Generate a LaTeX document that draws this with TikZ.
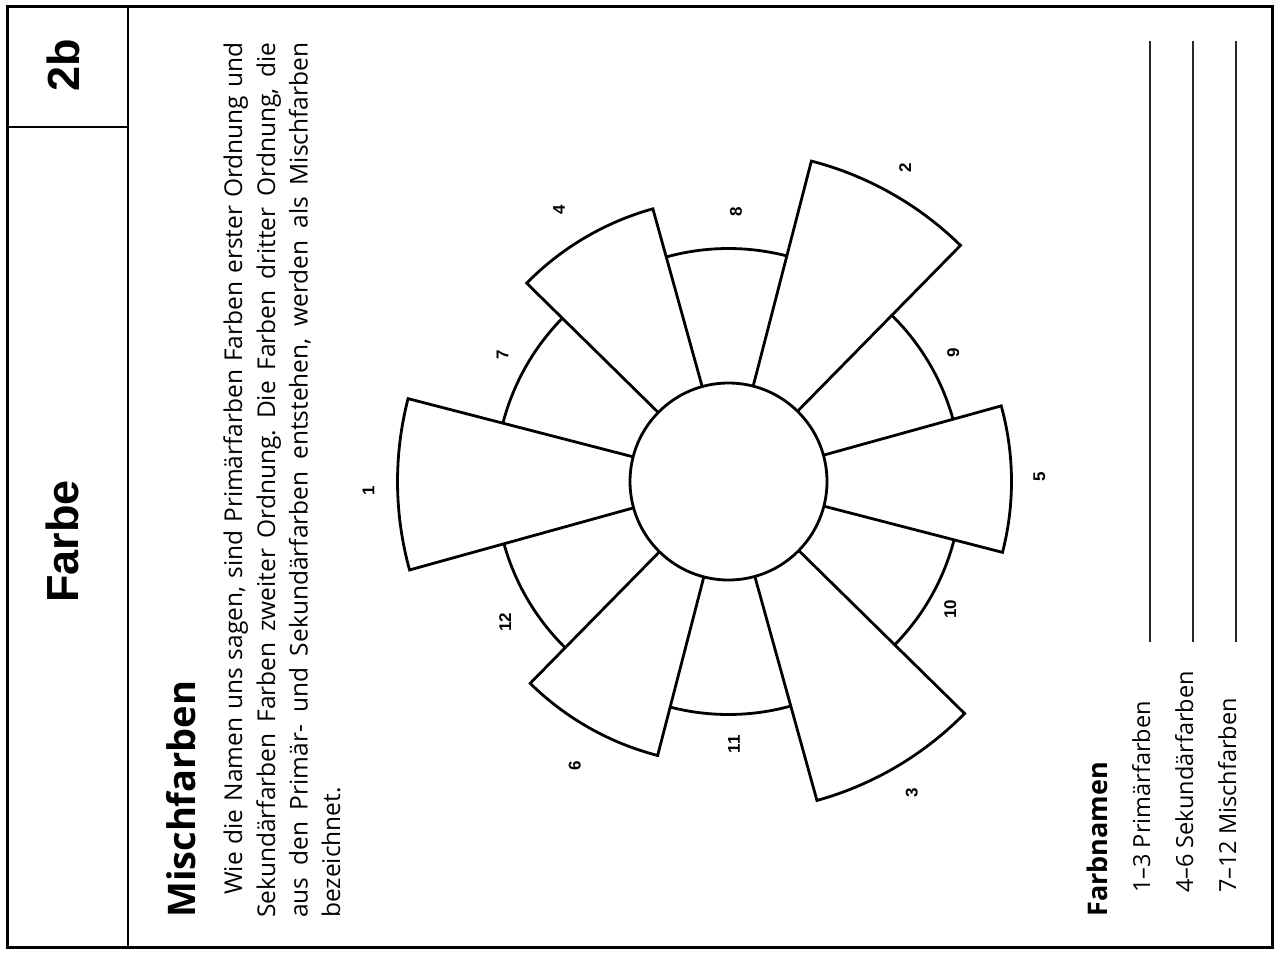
\documentclass[tikz,border=0pt]{standalone}
\usepackage{fontspec}
\setmainfont{Open Sans}
\newfontfamily\labfont{Liberation Sans}
\frenchspacing
\begin{document}
\begin{tikzpicture}[x=1pt,y=1pt,
  frame/.style={line width=3,black},
  wheel/.style={line width=2.8,black,line join=miter},
  rule/.style={line width=1.4,black!85},
  lab/.style={rotate=90,inner sep=0,font=\labfont\bfseries\fontsize{17}{20}\selectfont},
  body/.style={rotate=90,inner sep=0,anchor=base west,font=\fontsize{24.5}{29}\selectfont},
  listitem/.style={body,font=\fontsize{23.5}{28}\selectfont},
  big/.style={rotate=90,inner sep=0,font=\labfont\bfseries\fontsize{45}{50}\selectfont}]
\useasboundingbox (0,0) rectangle (1280,-954);
\fill[white] (0,0) rectangle (1280,-954);
% frame
\draw[frame] (7.5,-6.5) rectangle (1272,-947.5);
\draw[line width=2.5] (128,-6.5) -- (128,-947.5);
\draw[line width=2.5] (7.5,-127) -- (128,-127);
% strip texts
\node[big] (code) at (63.5,-65) {2b};
\node[big] (title) at (62.5,-541.5) {Farbe};
% heading and body
\node[body,font=\bfseries\fontsize{38}{44}\selectfont] (head) at (195,-918) {Mischfarben};
\node[body] (t1) at (242,-895) {\makebox[852pt][s]{Wie die Namen uns sagen, sind Primärfarben Farben erster Ordnung und}};
\node[body] (t2) at (275,-918) {\makebox[875pt][s]{Sekundärfarben Farben zweiter Ordnung. Die Farben dritter Ordnung, die}};
\node[body] (t3) at (307.5,-918) {\makebox[875pt][s]{aus den Primär- und Sekundärfarben entstehen, werden als Mischfarben}};
\node[body] (t4) at (340,-918) {bezeichnet.};
% colour names
\node[body,font=\bfseries\fontsize{27}{32}\selectfont] (fn) at (1107,-917) {Farbnamen};
\node[listitem] (f1) at (1150,-893) {1–3 Primärfarben};
\node[listitem] (f2) at (1193,-893) {4–6 Sekundärfarben};
\node[listitem] (f3) at (1236,-893) {7–12 Mischfarben};
\draw[rule] (1150,-642) -- (1150,-41);
\draw[rule] (1193,-642) -- (1193,-41);
\draw[rule] (1236,-642) -- (1236,-41);
% wheel
\begin{scope}[shift={(728.5,-481.5)}]
  \draw[wheel] (0,0) circle[radius=98.5];
  \foreach \k/\R in {0/283,1/331,2/283,3/331,4/283,5/331}{
    \pgfmathsetmacro\a{0.5+60*\k}
    \draw[wheel] (\a-15:98.5) -- (\a-15:\R) arc[start angle=\a-15, end angle=\a+15, radius=\R] -- (\a+15:98.5);
    \draw[wheel] (\a+15:233) arc[start angle=\a+15, end angle=\a+45, radius=233];
  }
  \foreach \n/\ang/\r in {1/181.4/360, 2/60.6/360, 3/-59.5/361, 4/122/320, 5/0.8/311, 6/-118.4/323,
                          7/150.8/259, 8/88.4/270, 9/29.8/259, 10/-30/256, 11/-88.8/263, 12/-147.8/264}{
    \node[lab] (L\n) at (\ang:\r) {\n};
  }
\end{scope}
\end{tikzpicture}
\end{document}
